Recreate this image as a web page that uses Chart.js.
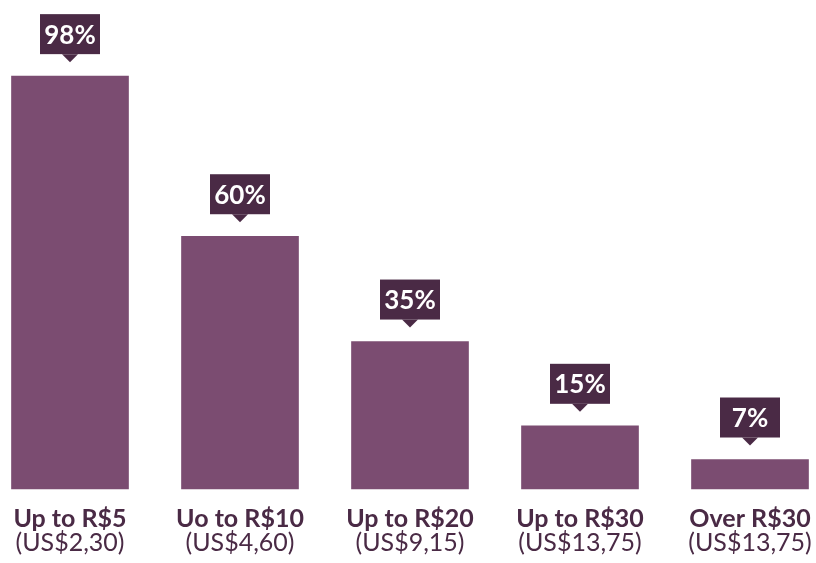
<!DOCTYPE html>
<html>
<head>
<meta charset="utf-8">
<script src="https://cdn.jsdelivr.net/npm/chart.js@4"></script>
<style>
  html, body { margin: 0; padding: 0; background: #fff; }
  #wrap { width: 816px; height: 563px; }
</style>
</head>
<body>
<div id="wrap"><canvas id="graficaPrecios" width="816" height="563"></canvas></div>
<script>
const categorias = ['Up to R$5', 'Uo to R$10', 'Up to R$20', 'Up to R$30', 'Over R$30'];
const equivalentes = ['(US$2,30)', '(US$4,60)', '(US$9,15)', '(US$13,75)', '(US$13,75)'];
const porcentajes = [98, 60, 35, 15, 7];

const colorBarra = '#7b4c71';
const colorOscuro = '#4a2a45';
const fuente = 'Lato, "Open Sans", sans-serif';

// etiquetas de categoría en dos líneas (negrita + normal) bajo cada barra
const etiquetasEje = {
  id: 'etiquetasEje',
  afterDraw(chart) {
    const ctx = chart.ctx;
    const x = chart.scales.x;
    ctx.save();
    ctx.fillStyle = colorOscuro;
    ctx.textAlign = 'center';
    ctx.textBaseline = 'alphabetic';
    categorias.forEach((cat, i) => {
      const px = x.getPixelForValue(i);
      ctx.font = 'bold 25px ' + fuente;
      ctx.fillText(cat, px, 527);
      ctx.font = '25px ' + fuente;
      ctx.fillText(equivalentes[i], px, 551);
    });
    ctx.restore();
  }
};

// cajitas con el porcentaje y su piquito encima de cada barra
const globos = {
  id: 'globos',
  afterDatasetsDraw(chart) {
    const ctx = chart.ctx;
    const meta = chart.getDatasetMeta(0);
    ctx.save();
    meta.data.forEach((barra, i) => {
      const ancho = 60, alto = 40, pico = 8, sep = 14;
      const punta = barra.y - sep;
      const base = punta - pico;
      const izq = barra.x - ancho / 2;
      ctx.fillStyle = colorOscuro;
      ctx.fillRect(izq, base - alto, ancho, alto);
      ctx.beginPath();
      ctx.moveTo(barra.x - 8, base);
      ctx.lineTo(barra.x + 8, base);
      ctx.lineTo(barra.x, punta);
      ctx.closePath();
      ctx.fill();
      ctx.fillStyle = '#ffffff';
      ctx.font = 'bold 26px ' + fuente;
      ctx.textAlign = 'center';
      ctx.textBaseline = 'middle';
      ctx.fillText(porcentajes[i] + '%', barra.x, base - alto / 2 + 1);
    });
    ctx.restore();
  }
};

const grafica = new Chart(document.getElementById('graficaPrecios'), {
  type: 'bar',
  data: {
    labels: categorias,
    datasets: [{
      data: porcentajes,
      backgroundColor: colorBarra,
      barThickness: 117,
      clip: false,
    }],
  },
  options: {
    responsive: false,
    animation: false,
    layout: { padding: { top: 10, bottom: 74, left: 70, right: 66 } },
    plugins: { legend: { display: false }, tooltip: { enabled: false } },
    scales: {
      x: { display: false, offset: false },
      y: { display: false, min: 0, max: 113.7 },
    },
  },
  plugins: [globos, etiquetasEje],
});
</script>
</body>
</html>
